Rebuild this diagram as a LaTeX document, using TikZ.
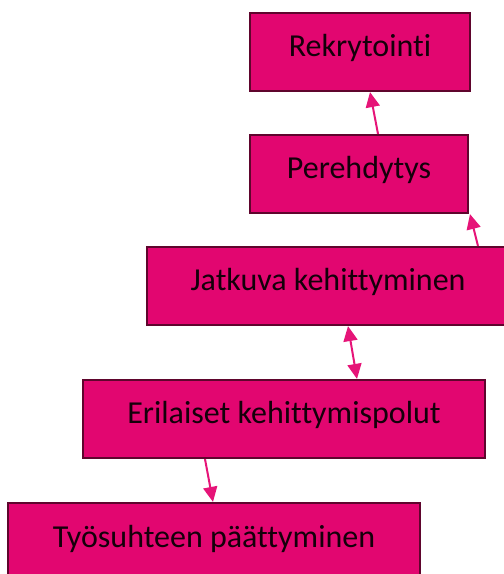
\documentclass[tikz,border=0pt]{standalone}
\usepackage{fontspec}
\setmainfont{Carlito}[Ligatures=NoCommon]
\usetikzlibrary{arrows.meta}
\definecolor{boxfill}{RGB}{226,6,112}
\definecolor{boxline}{RGB}{95,5,45}
\definecolor{arrowc}{RGB}{230,20,120}
\definecolor{txt}{RGB}{20,0,10}
\tikzset{
  box/.style={draw=boxline, line width=2.2pt, fill=boxfill, rectangle, inner sep=0pt,
    minimum height=78pt, text=txt, text height=20pt, text depth=11pt,
    font=\fontsize{32}{38}\selectfont},
  link/.style={draw=arrowc, line width=2pt},
  tipc/.tip={Triangle[length=15pt,width=14pt]}
}
\begin{document}
\begin{tikzpicture}[x=1pt,y=1pt]
\useasboundingbox (0,0) rectangle (504,-574);
\clip (0,0) rectangle (504,-574);
\node[box, minimum width=220pt] (n1) at (360,-52) {Rekrytointi};
\node[box, minimum width=218pt] (n2) at (359,-174) {Perehdytys};
\node[box, minimum width=362pt] (n3) at (328,-286) {Jatkuva kehittyminen};
\node[box, minimum width=402pt] (n4) at (284,-419) {Erilaiset kehittymispolut};
\node[box, minimum width=412pt, minimum height=120pt] (n5) at (214,-563) {};
\node[text=txt, font=\fontsize{32}{38}\selectfont, anchor=base] (t5) at (214,-547) {Työsuhteen päättyminen};
\draw[link, -{tipc}] ([xshift=19pt]n2.north) -- ([xshift=10pt]n1.south);
\draw[link, -{tipc}] ([xshift=150pt]n3.north) -- ([xshift=111pt]n2.south);
\draw[link, {tipc}-{tipc}] ([xshift=20pt]n3.south) -- ([xshift=73pt]n4.north);
\draw[link, -{tipc}] ([xshift=-79pt]n4.south) -- ([xshift=-1pt]n5.north);
\end{tikzpicture}
\end{document}
